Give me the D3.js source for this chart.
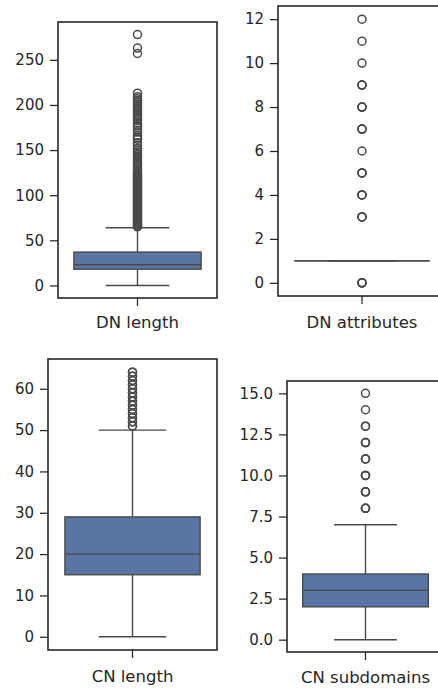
<!DOCTYPE html>
<html>
<head>
<meta charset="utf-8">
<script src="https://cdn.jsdelivr.net/npm/d3@7"></script>
<style>
  body { margin: 0; background: #fff; }
  svg { display: block; }
  .tick text { font-family: "DejaVu Sans", sans-serif; fill: #262626; }
</style>
</head>
<body>
<div id="chart"></div>
<script>
// box stats: [whisker low, q1, median, q3, whisker high]
const dnLengthStats = [0, 18, 23, 37, 64];
const dnLengthOutliers = [65, 66, 67, 68, 69, 70, 71, 72, 73, 74, 75, 76, 77, 78, 79, 80, 81, 82, 83, 84, 85,
    86, 87, 88, 89, 90, 91, 92, 93, 94, 95, 96, 97, 98, 99, 100, 101, 102, 103, 104, 105, 106, 107, 108,
    109, 110, 111, 112, 113, 114, 115, 116, 117, 118, 119, 120, 121, 122, 123, 124, 125,
    127, 129, 131, 133, 135, 137, 139, 141, 143, 145, 148, 150, 152, 155, 158, 162, 164, 166, 170, 172,
    175, 177, 180, 183, 185, 187, 189, 191, 193, 195, 197, 199, 201, 203, 205, 207, 209, 213,
    257, 263, 278];
const dnLengthTicks = [0, 50, 100, 150, 200, 250];

const dnAttrStats = [1, 1, 1, 1, 1];
const dnAttrOutliers = [0, 0, 0, 0, 3, 3, 3, 4, 4, 4, 5, 5, 5, 6, 7, 7, 7, 8, 8, 8, 9, 9, 9, 10, 11, 12];
const dnAttrTicks = [0, 2, 4, 6, 8, 10, 12];

const cnLengthStats = [0, 15, 20, 29, 50];
const cnLengthOutliers = [51, 51, 52, 52, 53, 53, 54, 54, 55, 55, 56, 56, 57, 57, 58, 58, 59, 59,
    60, 60, 61, 61, 62, 62, 63, 63, 64, 64];
const cnLengthTicks = [0, 10, 20, 30, 40, 50, 60];

const cnSubStats = [0, 2, 3, 4, 7];
const cnSubOutliers = [8, 8, 8, 9, 9, 9, 10, 10, 10, 11, 11, 11, 12, 12, 12, 13, 13, 14, 15];
const cnSubTicks = [0, 2.5, 5, 7.5, 10, 12.5, 15];

const W = 438, H = 688;
const boxFill = "#5875a4";
const lineColor = "#4a4a4a";
const edgeColor = "#262626";

const svg = d3.select("#chart").append("svg")
    .attr("width", W)
    .attr("height", H);

function drawPanel(p) {
    const g = svg.append("g")
        .attr("transform", "translate(" + p.left + "," + p.top + ")");

    const maxV = d3.max(p.outliers.concat(p.stats));
    const minV = d3.min(p.outliers.concat(p.stats));
    const pad = (maxV - minV) * 0.05;

    let y = d3.scaleLinear().domain([minV - pad, maxV + pad]).range([p.height, 0]);
    let x = d3.scaleBand().domain([p.label]).range([0, p.width]);

    const cx = x(p.label) + x.bandwidth() / 2;
    const bw = x.bandwidth() * 0.8;
    const cw = bw / 2;
    const s = p.stats;

    // whiskers
    g.append("line")
        .attr("x1", cx).attr("x2", cx)
        .attr("y1", y(s[0])).attr("y2", y(s[1]))
        .attr("stroke", lineColor).attr("stroke-width", 1.4);
    g.append("line")
        .attr("x1", cx).attr("x2", cx)
        .attr("y1", y(s[3])).attr("y2", y(s[4]))
        .attr("stroke", lineColor).attr("stroke-width", 1.4);
    // caps
    [s[0], s[4]].forEach(function (v) {
        g.append("line")
            .attr("x1", cx - cw / 2).attr("x2", cx + cw / 2)
            .attr("y1", y(v)).attr("y2", y(v))
            .attr("stroke", lineColor).attr("stroke-width", 1.4);
    });

    // box
    g.append("rect")
        .attr("x", cx - bw / 2)
        .attr("y", y(s[3]))
        .attr("width", bw)
        .attr("height", Math.max(0.01, y(s[1]) - y(s[3])))
        .attr("fill", boxFill)
        .attr("stroke", lineColor)
        .attr("stroke-width", 1.4);
    // median
    g.append("line")
        .attr("x1", cx - bw / 2).attr("x2", cx + bw / 2)
        .attr("y1", y(s[2])).attr("y2", y(s[2]))
        .attr("stroke", lineColor).attr("stroke-width", 1.4);

    // outliers
    g.selectAll(".flier")
        .data(p.outliers)
        .enter().append("circle")
        .attr("class", "flier")
        .attr("cx", cx)
        .attr("cy", function (d) { return y(d); })
        .attr("r", 4)
        .attr("fill", "none")
        .attr("stroke", lineColor)
        .attr("stroke-width", 1.5);

    // Y axis
    let yAxis = d3.axisLeft(y).tickValues(p.ticks).tickSize(8).tickPadding(6);
    if (p.fmt) yAxis.tickFormat(d3.format(p.fmt));
    const ya = g.append("g").attr("class", "y axis").call(yAxis);
    ya.select(".domain").remove();
    ya.selectAll(".tick line").attr("stroke", edgeColor).attr("stroke-width", 1.25);
    ya.selectAll(".tick text").style("font-size", "15px");

    // X axis
    const xa = g.append("g")
        .attr("class", "x axis")
        .attr("transform", "translate(0," + p.height + ")")
        .call(d3.axisBottom(x).tickSize(8).tickPadding(p.labelPad));
    xa.select(".domain").remove();
    xa.selectAll(".tick line").attr("stroke", edgeColor).attr("stroke-width", 1.25);
    xa.selectAll(".tick text").style("font-size", "16.5px");

    // frame
    g.append("rect")
        .attr("width", p.width)
        .attr("height", p.height)
        .attr("fill", "none")
        .attr("stroke", edgeColor)
        .attr("stroke-width", 1.6);
}

drawPanel({label: "DN length", stats: dnLengthStats, outliers: dnLengthOutliers, ticks: dnLengthTicks,
    left: 58, top: 22, width: 159, height: 276, labelPad: 10});
drawPanel({label: "DN attributes", stats: dnAttrStats, outliers: dnAttrOutliers, ticks: dnAttrTicks,
    left: 278, top: 6, width: 168, height: 290, labelPad: 12});
drawPanel({label: "CN length", stats: cnLengthStats, outliers: cnLengthOutliers, ticks: cnLengthTicks,
    left: 48, top: 359, width: 169, height: 291, labelPad: 12});
drawPanel({label: "CN subdomains", stats: cnSubStats, outliers: cnSubOutliers, ticks: cnSubTicks, fmt: ".1f",
    left: 287, top: 381, width: 157, height: 271, labelPad: 11});
</script>
</body>
</html>
